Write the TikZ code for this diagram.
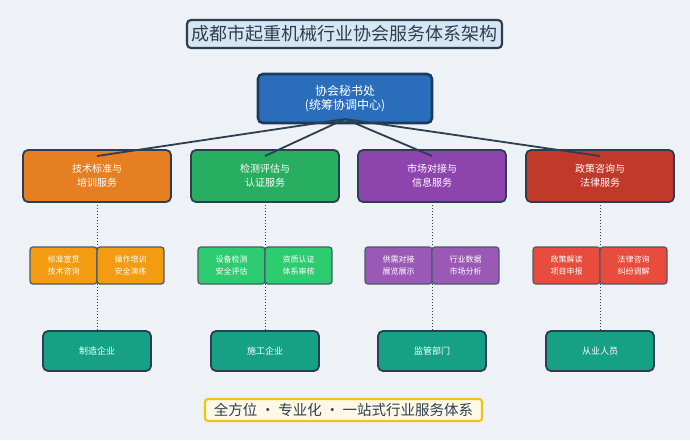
\documentclass[tikz,border=0pt]{standalone}
\usepackage{fontspec}
\setmainfont{Noto Sans CJK SC}
\usetikzlibrary{positioning}
\definecolor{CBack}{HTML}{EEF2F7}
\definecolor{CNavy}{HTML}{2C3E50}
\definecolor{CTitle}{HTML}{D6E6F2}
\definecolor{CSec}{HTML}{2A6EBB}
\definecolor{CSecLine}{HTML}{1B3A5C}
\definecolor{COrange}{HTML}{E67E22}
\definecolor{CGreen}{HTML}{27AE60}
\definecolor{CPurple}{HTML}{8E44AD}
\definecolor{CRed}{HTML}{C0392B}
\definecolor{COrangeL}{HTML}{F39C12}
\definecolor{CGreenL}{HTML}{2ECC71}
\definecolor{CPurpleL}{HTML}{9B59B6}
\definecolor{CRedL}{HTML}{E74C3C}
\definecolor{CTeal}{HTML}{16A085}
\definecolor{CGold}{HTML}{F1C40F}
\definecolor{CCream}{HTML}{FEF9E7}

\begin{document}
\begin{tikzpicture}[x=1pt,y=-1pt,
  base/.style={rectangle,inner sep=0pt,outer sep=0pt,align=center},
  titlebox/.style={base,draw=CNavy,fill=CTitle,line width=2.2pt,rounded corners=4pt,minimum width=315pt,minimum height=28pt,text=CNavy,font=\fontsize{18}{20}\selectfont},
  secbox/.style={base,draw=CSecLine,fill=CSec,line width=2.6pt,rounded corners=5pt,minimum width=174pt,minimum height=49pt,text=white,font=\fontsize{12}{14}\selectfont},
  svcbox/.style={base,draw=CNavy,fill=#1,line width=1.8pt,rounded corners=5pt,minimum width=148pt,minimum height=52pt,text=white,font=\fontsize{10}{14}\selectfont},
  subbox/.style={base,draw=CNavy!85,fill=#1,line width=1.3pt,rounded corners=3pt,minimum width=67pt,minimum height=37pt,text=white,font=\fontsize{8}{11.5}\selectfont},
  userbox/.style={base,draw=CNavy,fill=CTeal,line width=1.8pt,rounded corners=5pt,minimum width=108pt,minimum height=40pt,text=white,font=\fontsize{9}{11}\selectfont},
  footbox/.style={base,draw=CGold,fill=CCream,line width=2.2pt,rounded corners=3pt,minimum width=277pt,minimum height=22pt,text=CNavy,font=\fontsize{14.5}{16}\selectfont},
  link/.style={CNavy,line width=1.8pt},
  dots/.style={CNavy,line width=0.8pt,dash pattern=on 0.8pt off 2.2pt}
]
\fill[CBack] (0,0) rectangle (690,440);
\useasboundingbox (0,0) rectangle (690,440);

\node[titlebox] (title) at (344.5,34) {成都市起重机械行业协会服务体系架构};
\node[secbox] (sec) at (345,98.5) {协会秘书处\\(统筹协调中心)};

% service columns
\node[svcbox=COrange] (svc1) at (97,176) {技术标准与\\培训服务};
\node[svcbox=CGreen, right=20pt of svc1] (svc2) {检测评估与\\认证服务};
\node[svcbox=CPurple, right=19pt of svc2] (svc3) {市场对接与\\信息服务};
\node[svcbox=CRed, right=20pt of svc3] (svc4) {政策咨询与\\法律服务};

% sub items
\node[subbox=COrangeL, below left=45pt and 0pt of svc1.south] (sub1a) {标准宣贯\\技术咨询};
\node[subbox=COrangeL, right=0pt of sub1a] (sub1b) {操作培训\\安全演练};
\node[subbox=CGreenL, below left=45pt and 0pt of svc2.south] (sub2a) {设备检测\\安全评估};
\node[subbox=CGreenL, right=0pt of sub2a] (sub2b) {资质认证\\体系审核};
\node[subbox=CPurpleL, below left=45pt and 0pt of svc3.south] (sub3a) {供需对接\\展览展示};
\node[subbox=CPurpleL, right=0pt of sub3a] (sub3b) {行业数据\\市场分析};
\node[subbox=CRedL, below left=45pt and 0pt of svc4.south] (sub4a) {政策解读\\项目申报};
\node[subbox=CRedL, right=0pt of sub4a] (sub4b) {法律咨询\\纠纷调解};

% served groups
\node[userbox, below=47pt of sub1a.south east] (user1) {制造企业};
\node[userbox, below=47pt of sub2a.south east] (user2) {施工企业};
\node[userbox, below=47pt of sub3a.south east] (user3) {监管部门};
\node[userbox, below=47pt of sub4a.south east] (user4) {从业人员};

\node[footbox] (foot) at (343.5,410) {全方位 · 专业化 · 一站式行业服务体系};

\foreach \i in {1,...,4}{
  \draw[link] ([yshift=4pt]sec.south) -- ([yshift=-6pt]svc\i.north);
  \draw[dots] (svc\i.south) -- (sub\i a.north east);
  \draw[dots] (sub\i a.south east) -- (user\i.north);
}
\end{tikzpicture}
\end{document}
